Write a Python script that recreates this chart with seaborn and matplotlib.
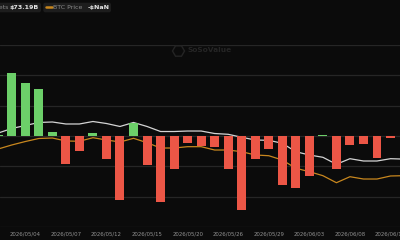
import numpy as np
import pandas as pd
import matplotlib
matplotlib.use("Agg")
import matplotlib.pyplot as plt
import seaborn as sns
from matplotlib.patches import FancyBboxPatch, RegularPolygon
from matplotlib.lines import Line2D

# ---------------- data ----------------
dates = ["2026/04/30", "2026/05/01", "2026/05/04", "2026/05/05", "2026/05/06",
         "2026/05/07", "2026/05/08", "2026/05/11", "2026/05/12", "2026/05/13",
         "2026/05/14", "2026/05/15", "2026/05/18", "2026/05/19", "2026/05/20",
         "2026/05/21", "2026/05/22", "2026/05/26", "2026/05/27", "2026/05/28",
         "2026/05/29", "2026/06/01", "2026/06/02", "2026/06/03", "2026/06/04",
         "2026/06/05", "2026/06/08", "2026/06/09", "2026/06/10", "2026/06/11",
         "2026/06/12"]
net_inflow_musd = [15, 1043, 879, 770, 71, -462, -242, 45, -384, -1055,
                   219, -483, -1083, -549, -115, -165, -176, -549, -1220, -384,
                   -209, -808, -862, -659, 10, -539, -153, -127, -358, -25, 125]
total_net_assets_busd = [77.49, 78.24, 78.73, 79.23, 79.31, 78.98, 78.98, 79.39,
                         79.06, 78.57, 79.23, 78.57, 77.74, 77.74, 77.82, 77.82,
                         77.41, 77.28, 76.79, 76.34, 76.29, 75.80, 74.41, 73.87,
                         73.49, 72.34, 73.26, 72.88, 72.88, 73.26, 73.19]
btc_price_usd = [77860, 78520, 79090, 79590, 79670, 79180, 79130, 79720, 79340,
                 79010, 79620, 78900, 78020, 78020, 78240, 78240, 77690, 77690,
                 77410, 76870, 76750, 76040, 74680, 74120, 73460, 72300, 73290,
                 72910, 72910, 73410, 73460]
tick_dates = ["2026/05/04", "2026/05/07", "2026/05/12", "2026/05/15", "2026/05/20",
              "2026/05/26", "2026/05/29", "2026/06/03", "2026/06/08", "2026/06/11"]
legend_assets_label = "Total Net Assets"
legend_assets_value = "$73.19B"
legend_price_label = "BTC Price"
legend_price_value = "-$NaN"
watermark = "SoSoValue"

# ---------------- style ----------------
BG = "#0b0b0b"
GRID = "#262626"
GREEN = "#6ccf69"
RED = "#ec5646"
WHITE_LINE = "#d4d4d4"
ORANGE = "#c8871e"
TICK = "#929292"

sns.set_style("dark")
plt.rcParams["font.family"] = ["DejaVu Sans"]

df = pd.DataFrame({
    "idx": np.arange(len(dates)),
    "date": dates,
    "flow": net_inflow_musd,
    "assets": total_net_assets_busd,
    "price": btc_price_usd,
})
df["dir"] = np.where(df["flow"] >= 0, "in", "out")

fig = plt.figure(figsize=(4, 2.4), dpi=100, facecolor=BG)
rect = [0, 13 / 240, 1, 182 / 240]
ax = fig.add_axes(rect)
ax_a = ax.twinx()
ax_p = ax.twinx()

# layering: grid + assets at the back, price middle, bars front
ax_a.set_zorder(1)
ax_p.set_zorder(2)
ax.set_zorder(3)
ax_a.patch.set_visible(True)
ax_a.patch.set_facecolor(BG)
ax.patch.set_visible(False)
ax_p.patch.set_visible(False)

# lines
sns.lineplot(data=df, x="idx", y="assets", ax=ax_a, color=WHITE_LINE,
             linewidth=0.9, legend=False)
sns.lineplot(data=df, x="idx", y="price", ax=ax_p, color=ORANGE,
             linewidth=0.9, legend=False)

# bars
sns.barplot(data=df, x="idx", y="flow", hue="dir",
            palette={"in": GREEN, "out": RED}, dodge=False, width=0.664,
            native_scale=True, errorbar=None, linewidth=0, saturation=1,
            legend=False, ax=ax)

ax.set_ylim(-1500, 1500)
ax_a.set_ylim(62, 92)
ax_p.set_ylim(65000, 95000)
ax.set_xlim(0.13, 29.7)

# grid on the back axis (aligned with flow gridlines every 500)
ax_a.set_yticks(np.arange(62, 92.1, 5))
ax_a.grid(True, axis="y", color=GRID, linewidth=0.9)
ax_a.grid(False, axis="x")
ax_a.set_axisbelow(True)
for a in (ax, ax_p):
    a.grid(False)

for a in (ax, ax_a, ax_p):
    for s in a.spines.values():
        s.set_visible(False)
    a.set_ylabel("")
    a.set_xlabel("")
    a.tick_params(axis="y", left=False, right=False, labelleft=False, labelright=False)

ax.set_xticks([dates.index(d) for d in tick_dates])
ax.set_xticklabels(tick_dates)
ax.tick_params(axis="x", length=0, pad=3.4, labelsize=3.9, colors=TICK)

# ---------------- legend boxes (top) ----------------
tr = fig.dpi_scale_trans
box_kw = dict(boxstyle="round,pad=0,rounding_size=0.02", facecolor="#1d1d1d",
              edgecolor="none", transform=tr)
fig.patches.append(FancyBboxPatch((-0.05, 2.277), 0.46, 0.096, **box_kw))
fig.patches.append(FancyBboxPatch((0.433, 2.277), 0.677, 0.096, **box_kw))
fig.text(0.082, 2.325, legend_assets_label, transform=tr, ha="right", va="center",
         fontsize=4.5, color="#8a8a8a")
fig.text(0.093, 2.325, legend_assets_value, transform=tr, ha="left", va="center",
         fontsize=4.6, color="#e6e6e6", weight="bold")
fig.lines.append(Line2D([0.46, 0.517], [2.327, 2.327], transform=tr,
                        color=ORANGE, linewidth=1.8))
fig.text(0.533, 2.325, legend_price_label, transform=tr, ha="left", va="center",
         fontsize=4.5, color="#8a8a8a")
fig.text(0.873, 2.325, legend_price_value, transform=tr, ha="left", va="center",
         fontsize=4.6, color="#e6e6e6", weight="bold")

# ---------------- watermark ----------------
fig.patches.append(RegularPolygon((1.785, 1.89), numVertices=6, radius=0.06,
                                  orientation=np.pi / 6, transform=tr,
                                  facecolor="none", edgecolor="#242424",
                                  linewidth=1.0))
fig.text(1.88, 1.895, watermark, transform=tr, ha="left", va="center",
         fontsize=5.3, color="#252525", weight="bold")

fig.savefig("out.png", dpi=100, facecolor=BG)
